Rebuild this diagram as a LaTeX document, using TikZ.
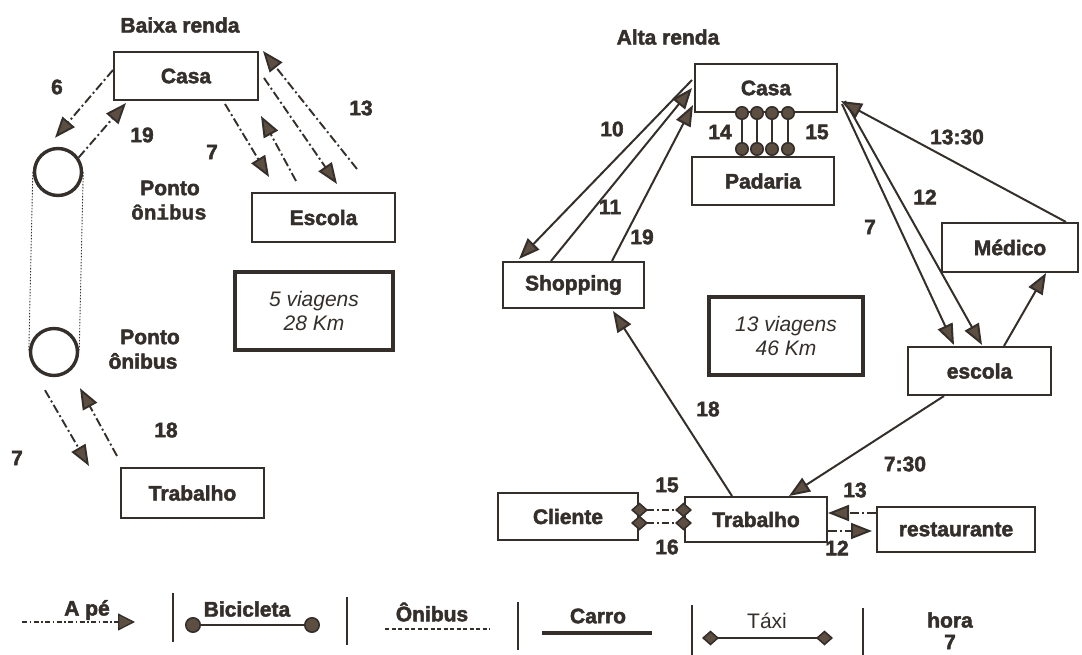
\documentclass[tikz,border=0pt]{standalone}
\usepackage{fontspec}
\setmainfont{Liberation Sans}[BoldFeatures={FakeBold=2.2}]
\newfontfamily\monofont{Liberation Mono}[BoldFeatures={FakeBold=1.5}]
\usetikzlibrary{arrows.meta}
\definecolor{ink}{RGB}{52,47,43}
\definecolor{headc}{RGB}{92,78,64}
\begin{document}
\begin{tikzpicture}[x=1pt,y=-1pt,
  bf/.style={font=\fontsize{21}{24}\selectfont\bfseries},
  box/.style={draw=ink, line width=2pt, inner sep=0pt, text=ink, bf},
  thickbox/.style={draw=ink, line width=4.8pt, inner sep=0pt, align=center, text=ink,
     font=\fontsize{21}{24}\selectfont\itshape},
  lbl/.style={inner sep=0pt, text=ink, bf},
  mono/.style={inner sep=0pt, text=ink, font=\fontsize{21}{24}\selectfont\monofont\bfseries},
  tri/.tip={Triangle[length=21pt,width=16pt,fill=headc]},
  walk/.style={draw=ink, line width=1.9pt, dash pattern=on 9pt off 3pt on 2pt off 3pt, -tri},
  car/.style={draw=ink, line width=2pt, -tri},
  bike/.style={draw=ink, line width=1.6pt, {Circle[length=14pt,fill=headc]}-{Circle[length=14pt,fill=headc]}},
  taxi/.style={draw=ink, line width=1.6pt, dash pattern=on 7pt off 3pt on 2pt off 3pt,
     {Diamond[length=17pt,width=15pt,fill=headc]}-{Diamond[length=17pt,width=15pt,fill=headc]},
     shorten <=-8pt, shorten >=-8pt},
  bus/.style={draw=ink, line width=0.9pt, dash pattern=on 1.5pt off 1.5pt},
  stop/.style={circle, draw=ink, line width=3.4pt, minimum size=47pt, inner sep=0pt},
  sep/.style={draw=ink, line width=1.3pt}
]
\useasboundingbox (0,0) rectangle (1082,655);

% ---------------- Baixa renda ----------------
\node[lbl] (tBaixa) at (180,25) {Baixa renda};
\node[box, minimum width=144pt, minimum height=48pt] (casaL) at (186,76) {Casa};
\node[box, minimum width=143pt, minimum height=49pt] (escolaL) at (323.5,217.5) {Escola};
\node[thickbox, minimum width=158pt, minimum height=78pt] (viagL) at (314,311) {5 viagens\\28 Km};
\node[box, minimum width=143pt, minimum height=50pt] (trabL) at (192.5,493) {Trabalho};
\node[stop] (p1) at (58,172) {};
\node[stop] (p2) at (54,352) {};

\node[lbl] (pt1) at (170,188) {Ponto};
\node[mono] (on1) at (169,212) {ônibus};
\node[lbl] (pt2) at (150,337) {Ponto};
\node[lbl] (on2) at (143,361) {ônibus};

\draw[bus] (p1.west) -- (p2.west);
\draw[bus] (p1.east) -- (p2.east);

\draw[walk] ([yshift=6pt]casaL.west) -- ([xshift=-3pt,yshift=9pt]p1.north);
\draw[walk] (p1.35) -- ([xshift=13pt,yshift=-2pt]casaL.south west);
\draw[walk] ([xshift=39pt,yshift=-3pt]casaL.south) -- ([xshift=18pt,yshift=15pt]escolaL.north west);
\draw[walk] ([xshift=45pt,yshift=11pt]escolaL.north west) -- ([xshift=2pt,yshift=-15pt]casaL.south east);
\draw[walk] ([xshift=5pt,yshift=-2pt]casaL.east) -- ([xshift=86pt,yshift=8pt]escolaL.north west);
\draw[walk] ([xshift=106pt,yshift=23pt]escolaL.north west) -- ([xshift=4pt]casaL.north east);
\draw[walk] ([xshift=-9pt,yshift=-13pt]p2.south) -- ([xshift=-31pt,yshift=1pt]trabL.north west);
\draw[walk] ([xshift=-3pt,yshift=11pt]trabL.north west) -- ([xshift=26pt,yshift=-11pt]p2.south);

\node[lbl] (l6) at (57,87) {6};
\node[lbl] (l19) at (142,135) {19};
\node[lbl] (l7a) at (212,152) {7};
\node[lbl] (l13) at (361,108) {13};
\node[lbl] (l18) at (166,430) {18};
\node[lbl] (l7b) at (17,458) {7};

% ---------------- Alta renda ----------------
\node[lbl] (tAlta) at (668,37) {Alta renda};
\node[box, minimum width=142pt, minimum height=48pt] (casaR) at (766,88) {Casa};
\node[box, minimum width=142pt, minimum height=48pt] (padaria) at (763,181) {Padaria};
\node[box, minimum width=141pt, minimum height=46pt] (shopping) at (573.5,285) {Shopping};
\node[thickbox, minimum width=154pt, minimum height=78pt] (viagR) at (786,336) {13 viagens\\46 Km};
\node[box, minimum width=136pt, minimum height=49pt] (medico) at (1010,247.5) {Médico};
\node[box, minimum width=143pt, minimum height=48pt] (escolaR) at (979.5,371) {escola};
\node[box, minimum width=142pt, minimum height=45pt] (trabR) at (756,519.5) {Trabalho};
\node[box, minimum width=140pt, minimum height=47pt] (cliente) at (568,516.5) {Cliente};
\node[box, minimum width=158pt, minimum height=45pt] (rest) at (956,529.5) {restaurante};

% bicycle Casa - Padaria
\foreach \dx in {-24,-9,6,22}{
  \draw[bike, shorten <=-7pt] ([xshift=\dx pt]casaR.south) -- ([xshift=\dx pt+3pt]padaria.north);
}
\node[lbl] (l14) at (720,132) {14};
\node[lbl] (l15a) at (817,132) {15};

% car
\draw[car] ([xshift=-2pt,yshift=8pt]casaR.west) -- ([xshift=17pt,yshift=2pt]shopping.north west);
\draw[car] ([xshift=49pt]shopping.north west) -- ([xshift=-2pt]casaR.west);
\draw[car] ([xshift=110pt]shopping.north west) -- ([xshift=-1pt,yshift=8pt]casaR.south west);
\draw[car] ([xshift=4pt,yshift=9pt]casaR.south east) -- ([xshift=47pt,yshift=1pt]escolaR.north west);
\draw[car] ([xshift=7pt,yshift=12pt]casaR.south east) -- ([xshift=75pt,yshift=1pt]escolaR.north west);
\draw[car] ([xshift=-13pt]medico.north east) -- ([xshift=3pt,yshift=12pt]casaR.south east);
\draw[car] ([xshift=97pt]escolaR.north west) -- ([xshift=105pt]medico.south west);
\draw[car] ([xshift=37pt]escolaR.south west) -- ([xshift=105pt]trabR.north west);
\draw[car] ([xshift=48pt]trabR.north west) -- ([xshift=111pt,yshift=-2pt]shopping.south west);

\node[lbl] (l10) at (612,129) {10};
\node[lbl] (l11) at (610,207) {11};
\node[lbl] (l19r) at (642,237) {19};
\node[lbl] (l1330) at (957,137) {13:30};
\node[lbl] (l12a) at (925,197) {12};
\node[lbl] (l7r) at (870,227) {7};
\node[lbl] (l18r) at (708,409) {18};
\node[lbl] (l730) at (905,464) {7:30};

% taxi
\draw[taxi] ([yshift=6.5pt]cliente.east) -- ([yshift=9.5pt]trabR.west);
\draw[taxi] ([yshift=-6.5pt]cliente.east) -- ([yshift=-3.5pt]trabR.west);
\node[lbl] (l15b) at (667,485) {15};
\node[lbl] (l16) at (667,547) {16};

% walk restaurante
\draw[walk] ([yshift=16.5pt]rest.west) -- ([yshift=6.5pt]trabR.east);
\draw[walk] ([yshift=-11.5pt]trabR.east) -- ([xshift=-4pt,yshift=-1.5pt]rest.west);
\node[lbl] (l13r) at (855,490) {13};
\node[lbl] (l12b) at (837,548) {12};

% ---------------- Legend ----------------
\coordinate (s1a) at (173,593); \coordinate (s1b) at (173,642);
\coordinate (s2a) at (347,597); \coordinate (s2b) at (347,645);
\coordinate (s3a) at (518,602); \coordinate (s3b) at (518,650);
\coordinate (s4a) at (692,605); \coordinate (s4b) at (692,655);
\coordinate (s5a) at (863,608); \coordinate (s5b) at (863,655);
\draw[sep] (s1a) -- (s1b);
\draw[sep] (s2a) -- (s2b);
\draw[sep] (s3a) -- (s3b);
\draw[sep] (s4a) -- (s4b);
\draw[sep] (s5a) -- (s5b);

\coordinate (la1) at (22,622); \coordinate (la2) at (135,622);
\draw[draw=ink, line width=1.3pt, dash pattern=on 5pt off 2.5pt on 1.5pt off 2.5pt,
      -{Triangle[length=17pt,width=17pt,fill=headc]}] (la1) -- (la2);
\node[lbl] (tApe) at (87,610) {A pé};

\coordinate (lb1) at (185,625); \coordinate (lb2) at (320,625);
\draw[draw=ink, line width=1.6pt, {Circle[length=16pt,fill=headc]}-{Circle[length=16pt,fill=headc]}] (lb1) -- (lb2);
\node[lbl] (tBic) at (247,609) {Bicicleta};

\coordinate (lo1) at (385,629); \coordinate (lo2) at (490,629);
\draw[draw=ink, line width=1.4pt, dash pattern=on 4pt off 2.5pt] (lo1) -- (lo2);
\node[lbl] (tOni) at (432,612) {Ônibus};

\coordinate (lc1) at (542,633); \coordinate (lc2) at (652,633);
\draw[draw=ink, line width=4.5pt] (lc1) -- (lc2);
\node[lbl] (tCar) at (598,616) {Carro};

\coordinate (lt1) at (702,638); \coordinate (lt2) at (833,638);
\draw[draw=ink, line width=1.6pt, {Diamond[length=17pt,width=15pt,fill=headc]}-{Diamond[length=17pt,width=15pt,fill=headc]}] (lt1) -- (lt2);
\node[inner sep=0pt, text=ink, font=\fontsize{21}{24}\selectfont] (tTax) at (767,621) {Táxi};

\node[lbl] (tHora) at (950,620) {hora};
\node[lbl] (tSete) at (950,642) {7};
\end{tikzpicture}
\end{document}
